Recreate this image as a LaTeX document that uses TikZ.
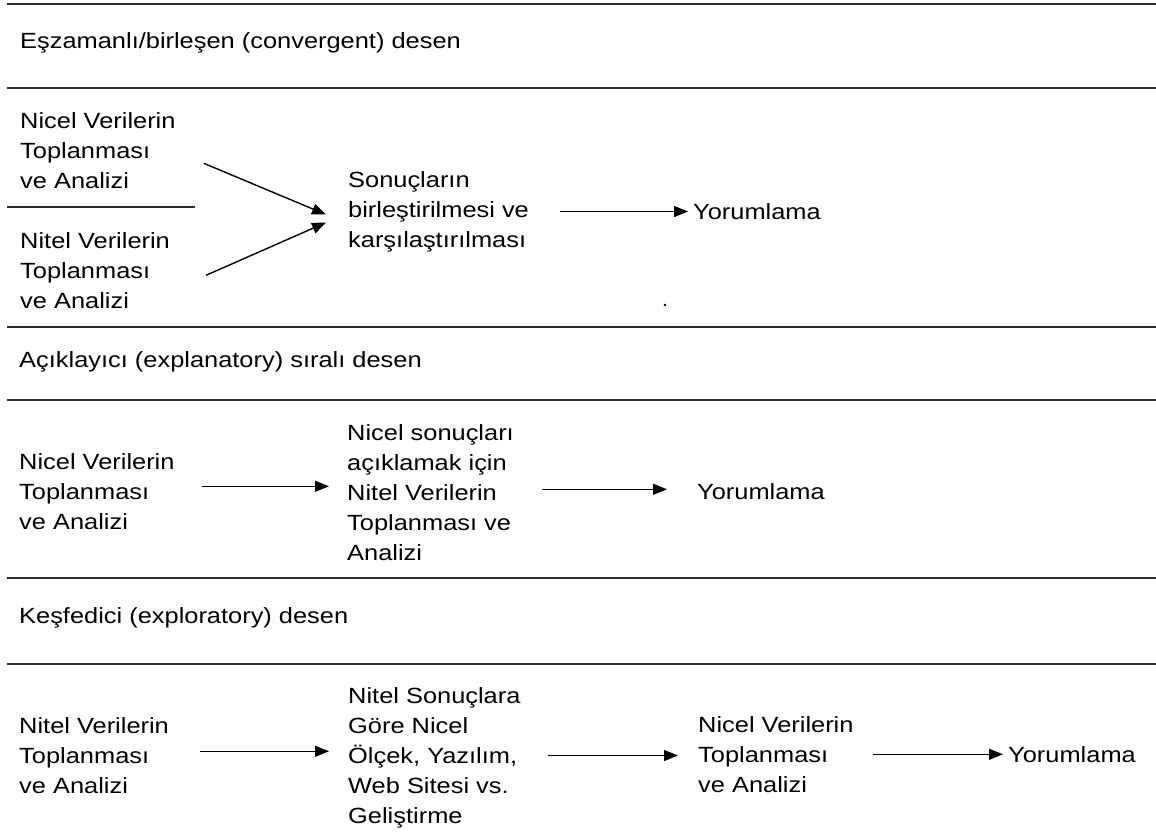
\documentclass[tikz,border=0pt]{standalone}
\usepackage{fontspec}
\setmainfont{Liberation Sans}[FakeStretch=1.155]
\usetikzlibrary{arrows.meta}
\definecolor{ruleGray}{RGB}{45, 45, 45}

\begin{document}
\begin{tikzpicture}[x=1pt, y=-1pt,
    rule/.style={line width=2.4pt, draw=ruleGray},
    arr/.style={line width=1.4pt, -{Triangle[length=14pt,width=11pt]}},
    txt/.style={inner sep=0pt, align=left, anchor=north west, font=\fontsize{22}{30}\selectfont},
    head/.style={inner sep=0pt, anchor=base west, font=\fontsize{22}{30}\selectfont}]
        \useasboundingbox (0,0) rectangle (1156,838);
        \fill[white] (0,0) rectangle (1156,838);
        \draw[rule] (7,4) -- (1156,4);
        \draw[rule] (7,88) -- (1156,88);
        \draw[rule] (7,327) -- (1156,327);
        \draw[rule] (7,400) -- (1156,400);
        \draw[rule] (7,578) -- (1156,578);
        \draw[rule] (7,664) -- (1156,664);
        \draw[line width=1.8pt, draw=ruleGray] (7,207) -- (195,207);

        \node[head] (convHead) at (20,48) {Eşzamanlı/birleşen (convergent) desen};
        \node[txt] (convQuan) at (20,112) {Nicel Verilerin\\Toplanması\\ve Analizi};
        \node[txt] (convQual) at (20,232) {Nitel Verilerin\\Toplanması\\ve Analizi};
        \node[txt] (convMerge) at (348,171) {Sonuçların\\birleştirilmesi ve\\karşılaştırılması};
        \node[head] (convInterp) at (693,219) {Yorumlama};
        \draw[arr] ([shift={(28,13)}]convQuan.east) -- ([shift={(-22,3)}]convMerge.west);
        \draw[arr] ([shift={(36,5)}]convQual.east) -- ([shift={(-22,11)}]convMerge.west);
        \draw[arr, shorten <=31pt, shorten >=5pt] (convMerge.east) -- (convMerge.east -| convInterp.west);
        \fill (665,305) circle (1.3pt);

        \node[head] (explHead) at (19,367) {Açıklayıcı (explanatory) sıralı desen};
        \node[txt] (explQuan) at (19,453) {Nicel Verilerin\\Toplanması\\ve Analizi};
        \node[txt] (explQual) at (347,424) {Nicel sonuçları\\açıklamak için\\Nitel Verilerin\\Toplanması ve\\Analizi};
        \node[head] (explInterp) at (697,499) {Yorumlama};
        \draw[arr, shorten <=27pt, shorten >=18pt] ([yshift=5pt]explQuan.east) -- ([yshift=5pt]explQuan.east -| explQual.west);
        \draw[arr, shorten <=28pt, shorten >=30pt] ([yshift=3pt]explQual.east) -- ([yshift=3pt]explQual.east -| explInterp.west);

        \node[head] (explrHead) at (19,623) {Keşfedici (exploratory) desen};
        \node[txt] (explrQual) at (19,717) {Nitel Verilerin\\Toplanması\\ve Analizi};
        \node[txt] (explrDev) at (348,687) {Nitel Sonuçlara\\Göre Nicel\\Ölçek, Yazılım,\\Web Sitesi vs.\\Geliştirme};
        \node[txt] (explrQuan) at (698,716) {Nicel Verilerin\\Toplanması\\ve Analizi};
        \node[head] (explrInterp) at (1008,762) {Yorumlama};
        \draw[arr, shorten <=31pt, shorten >=19pt] ([yshift=4pt]explrQual.east) -- ([yshift=4pt]explrQual.east -| explrDev.west);
        \draw[arr, shorten <=27pt, shorten >=20pt] ([yshift=2pt]explrDev.east) -- ([yshift=2pt]explrDev.east -| explrQuan.west);
        \draw[arr, shorten <=19pt, shorten >=5pt] (explrQuan.east) -- (explrQuan.east -| explrInterp.west);
      \end{tikzpicture}
\end{document}
